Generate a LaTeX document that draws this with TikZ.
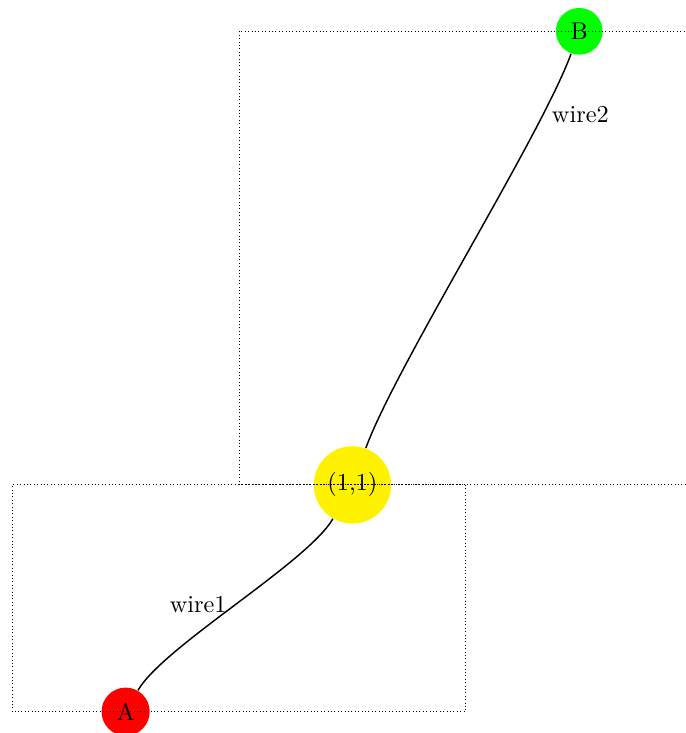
\documentclass[tikz,border=0pt]{standalone}
\usepackage{xcolor}
\usepackage{tikz}
\usetikzlibrary{positioning}

\begin{document}
\begin{tikzpicture}[
    x = 3.28cm, y = 3.28cm,
    port/.style = {circle, inner sep = 3.333pt},
    wire/.style = {semithick, black, looseness = 0.5},
    zone/.style = {densely dotted, black}
  ]
    \useasboundingbox (-0.554,-0.094) rectangle (2.470,3.138);

    % ── Nodes ────────────────────────────────────────────────────────────────
    \node[port, fill = red]    (A)   at (0,0) {A};
    \node[port, fill = yellow] (mid) at (1,1) {(1,1)};
    \node[port, fill = green]  (B)   at (2,3) {B};

    % ── Wires ────────────────────────────────────────────────────────────────
    \draw[wire] (A)   to[out=60, in=240] node[left]{wire1}            (mid);
    \draw[wire] (mid) to[out=70, in=250] node[pos=0.81, right]{wire2} (B);

    % ── Zones ────────────────────────────────────────────────────────────────
    \draw[zone] (-0.5,0) rectangle (1.5,1);
    \draw[zone] (0.5,1)  rectangle (2.5,3);
  \end{tikzpicture}
\end{document}
